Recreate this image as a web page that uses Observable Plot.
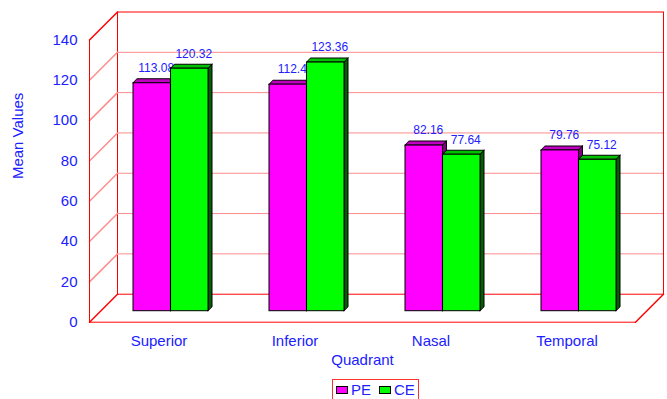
<!DOCTYPE html>
<html>
<head>
<meta charset="utf-8">
<script src="https://cdn.jsdelivr.net/npm/d3@7"></script>
<script src="https://cdn.jsdelivr.net/npm/@observablehq/plot@0.6"></script>
<style>
  body { margin: 0; background: #fff; font-family: "Liberation Sans", Arial, sans-serif; }
  #chart svg { display: block; }
  #legend {
    display: flex; align-items: center; width: max-content;
    margin: 2px 0 0 332px; padding: 0 3px; height: 19px;
    border: 1px solid #ff3030; color: #2020ff; font-size: 15px;
  }
  #legend .item { display: flex; align-items: center; margin-right: 8px; }
  #legend .item:last-child { margin-right: 0; }
  #legend .sw { width: 10px; height: 6px; border: 1px solid #000; margin-right: 3px; }
</style>
</head>
<body>
<div id="chart"></div>
<div id="legend"></div>
<script>
// Mean values per quadrant for the two groups
const quadrants = ["Superior", "Inferior", "Nasal", "Temporal"];
const peValues = [113.08, 112.4, 82.16, 79.76];
const ceValues = [120.32, 123.36, 77.64, 75.12];
const seriesNames = ["PE", "CE"];
const yTicks = [0, 20, 40, 60, 80, 100, 120, 140];

// Face shades: front, top, side
const palette = {
  PE: {front: "#ff00ff", top: "#c000c0", side: "#800080"},
  CE: {front: "#00ff00", top: "#00c000", side: "#006000"}
};
const textBlue = "#2020ff";
const wallRed = "#ff0000";
const gridPink = "#ff8c8c";

const rows = quadrants.flatMap((q, i) => [
  {quadrant: q, series: "PE", value: peValues[i]},
  {quadrant: q, series: "CE", value: ceValues[i]}
]);

// Layout of the pseudo-3D box
const width = 667, height = 377;
const marginLeft = 89, marginRight = 32, marginTop = 39.5, marginBottom = height - 321.7;
const padInner = 0.45;
const step = (width - marginLeft - marginRight) / quadrants.length;
const bandW = step * (1 - padInner);
const half = bandW / 2;
const wallDepth = 28;          // offset of the back wall
const barDx = 12, barDy = -11; // bars stand inside the box
const barDepth = 4;            // thickness of each bar

// Plain segment used for the receding edges of the box
const segment = {draw(context, l) { context.moveTo(0, 0); context.lineTo(0, -l); }};
const diag = wallDepth * Math.SQRT2;

function barMarks(series) {
  const data = rows.filter(d => d.series === series);
  const c = palette[series];
  const left = series === "PE" ? 0 : half;      // inset from band start
  const right = series === "PE" ? half : 0;     // inset from band end
  return [
    Plot.barY(data, {
      x: "quadrant", y: "value",
      insetLeft: left + half, insetRight: right - barDepth,
      dx: barDx, dy: barDy, fill: c.side, stroke: "#000", strokeWidth: 1,
      ariaDescription: "bar side"
    }),
    Plot.barY(data, {
      x: "quadrant", y1: "value", y2: "value",
      insetLeft: left, insetRight: right, insetTop: -barDepth,
      dx: barDx, dy: barDy, fill: c.top, stroke: "#000", strokeWidth: 1,
      ariaDescription: "bar top"
    }),
    Plot.barY(data, {
      x: "quadrant", y: "value",
      insetLeft: left, insetRight: right,
      dx: barDx, dy: barDy, fill: c.front, stroke: "#000", strokeWidth: 1,
      ariaDescription: "bar front"
    })
  ];
}

const labelDx = {PE: -half / 2 + barDx + barDepth, CE: half / 2 + barDx + barDepth};

const chart = Plot.plot({
  width, height, marginLeft, marginRight, marginTop, marginBottom,
  style: {color: textBlue, fontSize: "15px", fontFamily: "'Liberation Sans', Arial, sans-serif", background: "#fff"},
  x: {domain: quadrants, paddingInner: padInner, paddingOuter: padInner / 2, tickSize: 0, tickPadding: 13, label: null},
  y: {domain: [0, 140], ticks: yTicks, tickSize: 0, tickPadding: 12, label: null},
  marks: [
    // back wall and its gridlines
    Plot.ruleY(yTicks.slice(1, -1), {dx: wallDepth, dy: -wallDepth, stroke: gridPink}),
    Plot.frame({dx: wallDepth, dy: -wallDepth, stroke: wallRed}),
    // side wall gridlines
    Plot.vector(yTicks.slice(1, -1), {y: d => d, frameAnchor: "left", length: diag, rotate: 45, anchor: "start", shape: segment, stroke: gridPink}),
    Plot.vector([0, 140], {y: d => d, frameAnchor: "left", length: diag, rotate: 45, anchor: "start", shape: segment, stroke: wallRed}),
    Plot.vector([0], {y: d => d, frameAnchor: "right", length: diag, rotate: 45, anchor: "start", shape: segment, stroke: wallRed}),
    // front edges
    Plot.frame({anchor: "left", stroke: wallRed}),
    Plot.ruleY([0], {stroke: wallRed}),
    // value labels
    ...seriesNames.map(s => Plot.text(rows.filter(d => d.series === s), {
      x: "quadrant", y: "value", text: d => String(d.value),
      dx: labelDx[s], dy: barDy - 15, fontSize: 12, fill: textBlue
    })),
    // bars
    ...barMarks("PE"),
    ...barMarks("CE"),
    // axis titles
    Plot.text(["Mean Values"], {frameAnchor: "left", rotate: -90, dx: -71, dy: -2, fontSize: 15, fill: textBlue}),
    Plot.text(["Quadrant"], {frameAnchor: "bottom", dy: 43, fontSize: 15, fill: textBlue})
  ]
});

// Shear the top and side faces into parallelograms
const svg = d3.select(chart);
svg.selectAll('g[aria-description="bar top"] rect').each(function () {
  const r = d3.select(this);
  const py = +r.attr("y") + +r.attr("height");
  r.attr("transform", `translate(0,${py}) skewX(-45) translate(0,${-py})`);
});
svg.selectAll('g[aria-description="bar side"] rect').each(function () {
  const r = d3.select(this);
  const px = +r.attr("x");
  r.attr("transform", `translate(${px},0) skewY(-45) translate(${-px},0)`);
});

document.getElementById("chart").append(chart);

// Legend
const legend = d3.select("#legend");
seriesNames.forEach(s => {
  const item = legend.append("div").attr("class", "item");
  item.append("div").attr("class", "sw").style("background", palette[s].front);
  item.append("span").text(s);
});
</script>
</body>
</html>
